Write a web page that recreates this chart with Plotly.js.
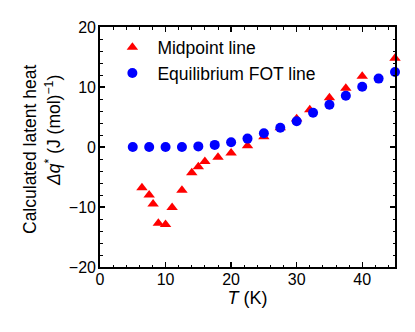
<!DOCTYPE html>
<html>
<head>
<meta charset="utf-8">
<script src="https://cdn.plot.ly/plotly-3.0.1.min.js"></script>
<style>
  body { margin: 0; background: #fff; }
  #graphique { width: 415px; height: 332px; }
</style>
</head>
<body>
<div id="graphique"></div>
<script>
// Midpoint line (red triangles)
const temp_mid = [6.4, 7.5, 8.1, 8.9, 10, 11, 12.5, 14, 15, 16, 18, 20, 22.5, 25, 27.5, 30, 32, 35, 37.5, 40, 45];
const chaleur_mid = [-6.8, -8.0, -9.5, -12.7, -12.9, -10.1, -7.2, -4.3, -3.3, -2.4, -1.7, -1.0, 0.2, 1.7, 3.2, 4.7, 6.2, 8.2, 9.8, 11.8, 14.8];

// Equilibrium FOT line (blue circles)
const temp_fot = [5, 7.5, 10, 12.5, 15, 17.5, 20, 22.5, 25, 27.5, 30, 32.5, 35, 37.5, 40, 42.5, 45];
const chaleur_fot = [0, 0, 0, 0, 0.1, 0.35, 0.8, 1.4, 2.3, 3.2, 4.3, 5.7, 7.05, 8.55, 10.05, 11.4, 12.5];

const police = 'Liberation Sans, Arial, sans-serif';

let donnees = [
    {
        x: temp_mid, y: chaleur_mid,
        type: 'scatter', mode: 'markers',
        name: 'Midpoint line',
        marker: {symbol: 'triangle-up', size: 10, color: '#ff0000'},
        cliponaxis: false
    },
    {
        x: temp_fot, y: chaleur_fot,
        type: 'scatter', mode: 'markers',
        name: 'Equilibrium FOT line',
        marker: {symbol: 'circle', size: 10, color: '#0000ff'},
        cliponaxis: false
    }
];

// axes communs : ticks intérieurs, miroir en haut et à droite
let axe = {
    showgrid: false, zeroline: false,
    showline: true, linecolor: '#000', linewidth: 1.8, mirror: 'ticks',
    ticks: 'inside', ticklen: 5, tickwidth: 1.3, tickcolor: '#000',
    tickfont: {family: police, size: 16, color: '#000'},
    minor: {ticks: 'inside', ticklen: 2.5, tickwidth: 1, tickcolor: '#000', dtick: 2}
};

let apparence = {
    width: 415, height: 332,
    margin: {l: 100, r: 20, t: 27, b: 65},
    paper_bgcolor: '#fff', plot_bgcolor: '#fff',
    font: {family: police, size: 16, color: '#000'},
    showlegend: true,
    legend: {
        x: 0.025, y: 0.99, xanchor: 'left', yanchor: 'top',
        bgcolor: 'rgba(0,0,0,0)', tracegroupgap: 0, itemwidth: 40,
        font: {family: police, size: 17.5, color: '#000'}
    },
    xaxis: Object.assign({}, axe, {
        range: [0, 45], dtick: 10, tick0: 0, ticklabelstandoff: -3,
        title: {text: '<i>T</i> (K)', font: {family: police, size: 18}, standoff: 0}
    }),
    yaxis: Object.assign({}, axe, {
        range: [-20, 20], dtick: 10, tick0: 0, ticklabelstandoff: -1
    }),
    annotations: [
        {
            xref: 'paper', yref: 'paper', x: (30 - 100) / 295, y: (267 - 150) / 240,
            xanchor: 'center', yanchor: 'middle', textangle: -90, showarrow: false,
            text: 'Calculated latent heat',
            font: {family: police, size: 17.5, color: '#000'}
        },
        {
            xref: 'paper', yref: 'paper', x: (53 - 100) / 295, y: (267 - 131) / 240,
            xanchor: 'center', yanchor: 'middle', textangle: -90, showarrow: false,
            text: '<i>Δq</i><sup>*</sup> (J (mol)<sup>−1</sup>)',
            font: {family: police, size: 17.5, color: '#000'}
        }
    ]
};

Plotly.newPlot('graphique', donnees, apparence, {displayModeBar: false, staticPlot: true});
</script>
</body>
</html>
